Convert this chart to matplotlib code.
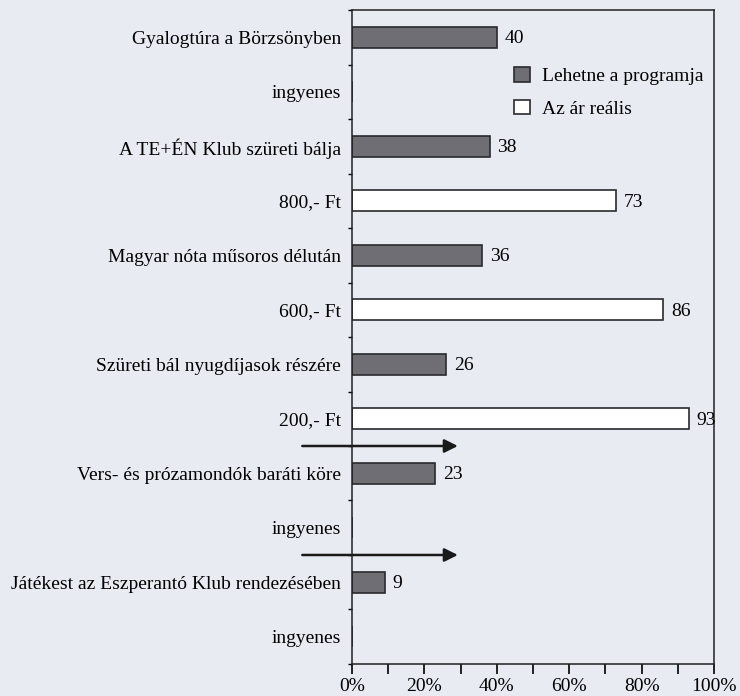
import matplotlib.pyplot as plt
import numpy as np

# sorok fentről lefelé
labels = ["Gyalogtúra a Börzsönyben", "ingyenes",
          "A TE+ÉN Klub szüreti bálja", "800,- Ft",
          "Magyar nóta műsoros délután", "600,- Ft",
          "Szüreti bál nyugdíjasok részére", "200,- Ft",
          "Vers- és prózamondók baráti köre", "ingyenes",
          "Játékest az Eszperantó Klub rendezésében", "ingyenes"]
program = [40, 38, 36, 26, 23, 9]      # Lehetne a programja
ar_realis = [0, 73, 86, 93, 0, 0]      # Az ár reális (ingyenes = nincs oszlop)

plt.rcParams["font.family"] = ["Liberation Serif", "DejaVu Serif"]
bg = "#e9ebf2"
fs = 14.0

fig = plt.figure(figsize=(7.4, 6.96), dpi=100, facecolor=bg)
ax = fig.add_axes([0.4757, 0.046, 0.4892, 0.9396], facecolor=bg)

y_prog = np.arange(0, 12, 2)
y_ar = np.arange(1, 12, 2)
h = 0.38

ax.barh(y_prog, program, height=h, color="#6e6e74", edgecolor="#2a2a2e",
        linewidth=1.2, label="Lehetne a programja")
ax.barh(y_ar, ar_realis, height=h, color="white", edgecolor="#2a2a2e",
        linewidth=1.2, label="Az ár reális")

for y, v in zip(y_prog, program):
    ax.text(v + 2.2, y + 0.03, str(v), va="center", ha="left", fontsize=fs)
for y, v in zip(y_ar, ar_realis):
    if v > 0:
        ax.text(v + 2.2, y + 0.03, str(v), va="center", ha="left", fontsize=fs)

ax.set_xlim(0, 100)
ax.set_ylim(11.5, -0.5)
ax.set_yticks(np.arange(12))
ax.set_yticklabels(labels, fontsize=fs)
ax.tick_params(axis="y", length=0, pad=8)
ax.set_yticks(np.arange(-0.5, 12, 1), minor=True)
ax.tick_params(axis="y", which="minor", length=3, width=1)

ax.set_xticks(np.arange(0, 101, 10))
ax.set_xticklabels([f"{x}%" if x % 20 == 0 else "" for x in range(0, 101, 10)],
                   fontsize=fs)
ax.tick_params(axis="x", length=7, width=1.2, pad=3)

for s in ax.spines.values():
    s.set_linewidth(1.1)
    s.set_color("#222")

# nyilak a sorok között
for y in (7.5, 9.5):
    ax.annotate("", xy=(30, y), xytext=(-14.5, y),
                arrowprops=dict(arrowstyle="-|>", color="#1a1a1a", lw=1.8,
                                mutation_scale=20),
                annotation_clip=False)

ax.legend(loc="upper left", bbox_to_anchor=(0.40, 0.94), frameon=False,
          fontsize=fs, handlelength=0.8, handleheight=0.8, handletextpad=0.6,
          labelspacing=0.75)

plt.savefig("out.png", dpi=100, facecolor=bg)
